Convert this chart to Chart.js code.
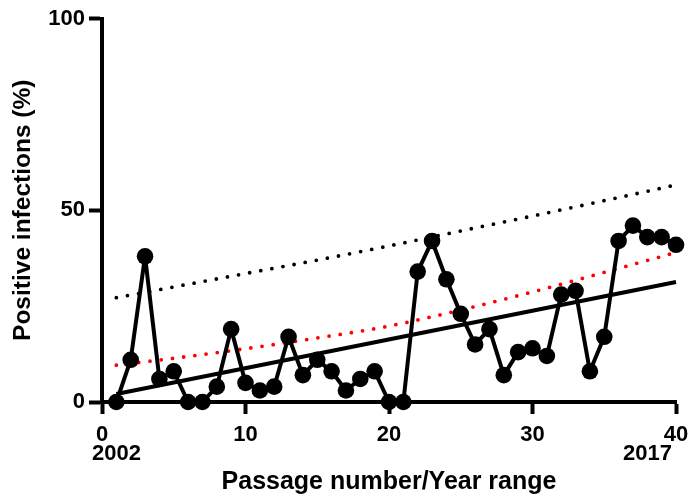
<!DOCTYPE html>
<html>
<head>
<meta charset="utf-8">
<script src="https://cdn.jsdelivr.net/npm/chart.js@4/dist/chart.umd.min.js"></script>
<style>
  html, body { margin: 0; padding: 0; background: #fff; }
  #wrap { width: 688px; height: 499px; position: relative; }
</style>
</head>
<body>
<div id="wrap"><canvas id="chart" width="688" height="499"></canvas></div>
<script>
// Passage numbers (x) and the share of positive infections at each passage
const passages = [1, 2, 3, 4, 5, 6, 7, 8, 9, 10, 11, 12, 13, 14, 15, 16, 17, 18, 19, 20,
                  21, 22, 23, 24, 25, 26, 27, 28, 29, 30, 31, 32, 33, 34, 35, 36, 37, 38, 39, 40];
const positivity = [0, 11, 38, 6, 8, 0, 0, 4, 19, 5, 3, 4, 17, 7, 11, 8, 3, 6, 8, 0,
                    0, 34, 42, 32, 23, 15, 19, 7, 13, 14, 12, 28, 29, 8, 17, 42, 46, 43, 43, 41];

// Linear trend line (end points)
const trendX = [1, 40];
const trendY = [2.1, 31.3];

// Upper bands of the trend, sampled along the passage axis
const bandX = [1, 5, 10, 15, 20, 25, 30, 35, 40];
const confidenceUpper = [9.6, 11.4, 13.9, 16.7, 19.8, 24.0, 28.7, 33.8, 39.0];
const predictionUpper = [27.2, 30.0, 33.5, 37.0, 40.7, 44.6, 48.5, 52.5, 56.6];

// Axis ticks and year annotations
const xTicks = [0, 10, 20, 30, 40];
const yTicks = [0, 50, 100];
const yearStart = '2002';
const yearEnd = '2017';

const FONT = 'Liberation Sans, Arial, Helvetica, sans-serif';

const toPoints = (xs, ys) => xs.map((x, i) => ({ x: x, y: ys[i] }));

// Year range written under the first and last passage ticks
const yearLabels = {
  id: 'yearLabels',
  afterDraw(chart) {
    const { ctx } = chart;
    const xs = chart.scales.x;
    const base = chart.chartArea.bottom + 58;
    ctx.save();
    ctx.fillStyle = '#000';
    ctx.font = 'bold 22px ' + FONT;
    ctx.textBaseline = 'alphabetic';
    ctx.textAlign = 'left';
    ctx.fillText(yearStart, xs.getPixelForValue(xTicks[0]) - 10, base);
    ctx.textAlign = 'right';
    ctx.fillText(yearEnd, xs.getPixelForValue(xTicks[xTicks.length - 1]) - 4, base);
    ctx.restore();
  }
};

new Chart(document.getElementById('chart'), {
  type: 'line',
  data: {
    datasets: [
      {
        data: toPoints(passages, positivity),
        borderColor: '#000',
        backgroundColor: '#000',
        borderWidth: 4,
        borderJoinStyle: 'round',
        borderCapStyle: 'round',
        pointRadius: 8.3,
        pointBorderWidth: 0,
        pointBackgroundColor: '#000',
        tension: 0,
        clip: false
      },
      {
        data: toPoints(trendX, trendY),
        borderColor: '#000',
        borderWidth: 4,
        pointRadius: 0,
        tension: 0,
        clip: false
      },
      {
        data: toPoints(bandX, confidenceUpper),
        borderColor: '#ff0000',
        borderWidth: 3.8,
        borderDash: [0, 11.3],
        borderCapStyle: 'round',
        pointRadius: 0,
        cubicInterpolationMode: 'monotone',
        clip: false
      },
      {
        data: toPoints(bandX, predictionUpper),
        borderColor: '#000',
        borderWidth: 3.8,
        borderDash: [0, 11.3],
        borderCapStyle: 'round',
        pointRadius: 0,
        cubicInterpolationMode: 'monotone',
        clip: false
      }
    ]
  },
  options: {
    responsive: false,
    animation: false,
    events: [],
    layout: { padding: { top: 18.5, right: 12, left: 0, bottom: 0 } },
    plugins: { legend: { display: false }, tooltip: { enabled: false } },
    scales: {
      x: {
        type: 'linear',
        min: xTicks[0],
        max: xTicks[xTicks.length - 1],
        afterBuildTicks: (s) => { s.ticks = xTicks.map(v => ({ value: v })); },
        afterFit: (s) => { s.height = 97; s.paddingLeft = 0; s.paddingRight = 0; },
        border: { display: true, color: '#000', width: 4 },
        grid: { drawOnChartArea: false, drawTicks: true, tickLength: 12, tickWidth: 4, tickColor: '#000' },
        ticks: {
          color: '#000',
          padding: 8,
          maxRotation: 0,
          autoSkip: false,
          font: { family: FONT, weight: 'bold', size: 22 }
        },
        title: {
          display: true,
          text: 'Passage number/Year range',
          color: '#000',
          font: { family: FONT, weight: 'bold', size: 25, lineHeight: 1.2 },
          padding: { top: 0, bottom: 1.5 }
        }
      },
      y: {
        type: 'linear',
        min: yTicks[0],
        max: yTicks[yTicks.length - 1],
        afterBuildTicks: (s) => { s.ticks = yTicks.map(v => ({ value: v })); },
        afterFit: (s) => { s.width = 102; s.paddingTop = 0; s.paddingBottom = 0; },
        border: { display: true, color: '#000', width: 4 },
        grid: { drawOnChartArea: false, drawTicks: true, tickLength: 13, tickWidth: 4, tickColor: '#000' },
        ticks: {
          color: '#000',
          padding: 4,
          font: { family: FONT, weight: 'bold', size: 22 }
        },
        title: {
          display: true,
          text: 'Positive infections (%)',
          color: '#000',
          font: { family: FONT, weight: 'bold', size: 24.5, lineHeight: 1.2 },
          padding: { top: 9, bottom: 0 }
        }
      }
    }
  },
  plugins: [yearLabels]
});
</script>
</body>
</html>
